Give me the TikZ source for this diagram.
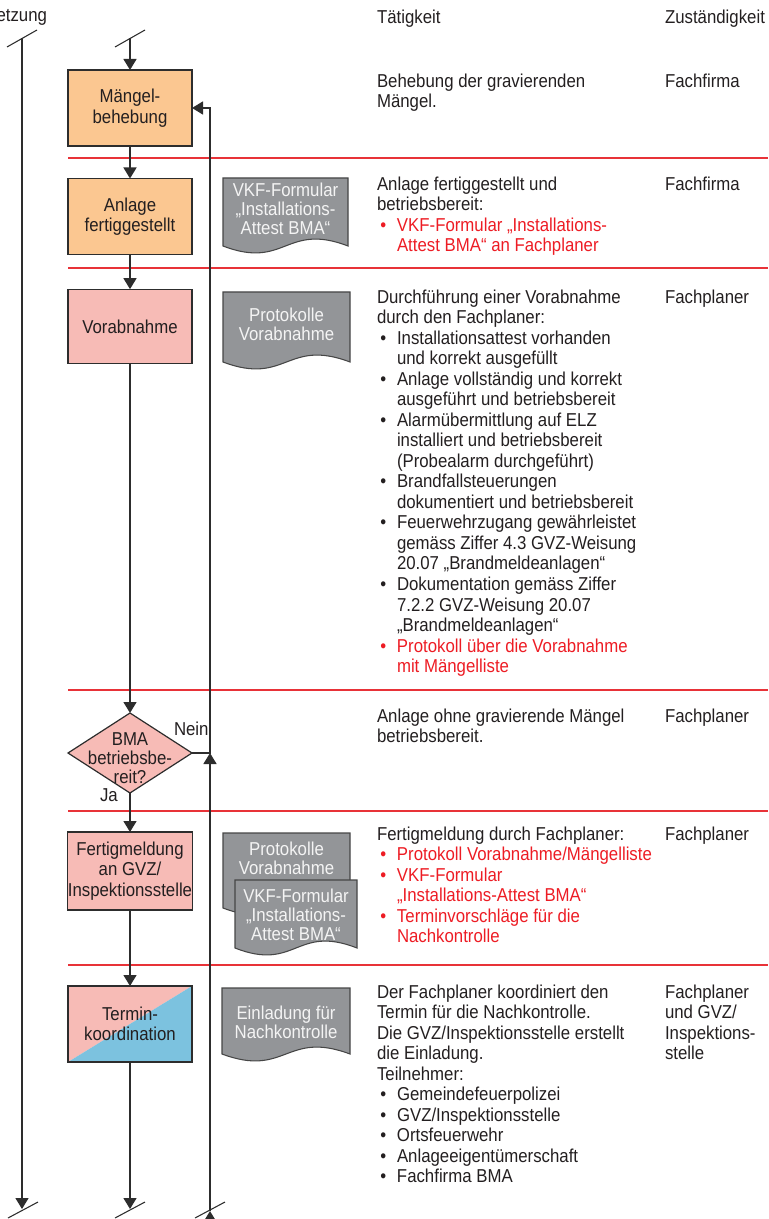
\documentclass[tikz,border=0pt]{standalone}
\usepackage{fontspec}
\setmainfont{Liberation Sans}[FakeStretch=0.9]
\usetikzlibrary{arrows.meta,shapes.geometric}

\definecolor{ink}{RGB}{35,31,32}
\definecolor{lineC}{RGB}{45,45,45}
\definecolor{rulered}{RGB}{232,50,56}
\definecolor{redtxt}{RGB}{237,28,36}
\definecolor{orangefill}{RGB}{251,199,145}
\definecolor{pinkfill}{RGB}{247,187,182}
\definecolor{bluefill}{RGB}{124,194,223}
\definecolor{docfill}{RGB}{147,149,152}
\definecolor{docline}{RGB}{70,70,70}
\definecolor{doctxt}{RGB}{244,244,244}

\newcommand\bodyfont{\fontsize{14pt}{15.4pt}\selectfont}
\newcommand\docfont{\fontsize{14pt}{14.2pt}\selectfont}
% bullet and hanging indent for list lines
\newcommand\bl{\makebox[15pt][l]{\hspace{2.5pt}•}}
\newcommand\ind{\hspace*{15pt}}
\newcommand\rl[1]{\textcolor{redtxt}{#1}}

% document symbol: left, top, width, height of straight sides (px)
\newcommand\docshape[4]{%
  \path[docstyle] (#1,#2) -- ({#1+#3},#2) -- ({#1+#3},{#2+#4})
    .. controls ({#1+0.5*#3},{#2+#4-24}) and ({#1+0.5*#3},{#2+#4+24}) .. (#1,{#2+#4}) -- cycle;}

\tikzset{
  every node/.style={font=\bodyfont, text=ink, inner sep=0pt, outer sep=0pt},
  flow/.style={draw=lineC, line width=1.1pt, -{Triangle[width=9.75pt,length=8.25pt]}},
  plainline/.style={draw=lineC, line width=1.1pt},
  cutmark/.style={draw=lineC, line width=0.8pt},
  stepbox/.style={draw=lineC, line width=0.9pt, minimum width=93pt, minimum height=57pt, align=center},
  decision/.style={diamond, draw=lineC, line width=0.9pt, fill=pinkfill, minimum width=93pt, minimum height=60pt},
  rowrule/.style={draw=rulered, line width=0.9pt},
  docstyle/.style={draw=docline, line width=0.8pt, fill=docfill},
  doctext/.style={font=\docfont, text=doctxt, align=center},
  coltext/.style={anchor=north west, align=left},
}

\begin{document}
\begin{tikzpicture}[x=0.75pt,y=-0.75pt]
\clip (0,0) rectangle (768,1219);

% column headers
\node[anchor=north east] (hcut) at (47,9.5) {etzung};
\node[coltext] (hact) at (377,9.5) {Tätigkeit};
\node[coltext] (hres) at (665,9.5) {Zuständigkeit};

% row separators
\foreach \yy in {158,268,690,811,965}
  \draw[rowrule] (68,\yy) -- (768,\yy);

% process steps
\node[stepbox, fill=orangefill] (mb) at (130,108) {Mängel-\\behebung};
\node[stepbox, fill=orangefill] (af) at (130,216.5) {Anlage\\fertiggestellt};
\node[stepbox, fill=pinkfill, minimum height=56pt] (va) at (130,326.5) {Vorabnahme};
\node[decision] (dec) at (130,753) {};
\node[font=\docfont, align=center] (decl) at (130,758) {BMA\\betriebsbe-\\reit?};
\node[stepbox, fill=pinkfill, minimum height=58.5pt] (fm) at (130,871) {Fertigmeldung\\an GVZ/\\Inspektionsstelle};
\node[stepbox, path picture={
    \fill[pinkfill] (path picture bounding box.north west) -- (path picture bounding box.north east)
      -- (path picture bounding box.south west) -- cycle;
    \fill[bluefill] (path picture bounding box.north east) -- (path picture bounding box.south east)
      -- (path picture bounding box.south west) -- cycle;}] (tk) at (130,1024) {Termin-\\koordination};

\node[anchor=north west] (nein) at (174,721.5) {Nein};
\node[anchor=north west] (ja) at (100,788.5) {Ja};

% documents
\docshape{223}{178}{125}{68}
\node[doctext] (d1) at (285.5,209) {VKF-Formular\\„Installations-\\Attest BMA“};
\docshape{223}{292}{127}{70}
\node[doctext] (d2) at (286.5,324) {Protokolle\\Vorabnahme};
\docshape{223}{833}{127}{75}
\node[doctext] (d3) at (286.5,858) {Protokolle\\Vorabnahme};
\docshape{235}{880}{122}{68}
\node[doctext] (d4) at (296,915) {VKF-Formular\\„Installations-\\Attest BMA“};
\docshape{222}{988}{128}{66}
\node[doctext] (d5) at (286,1022) {Einladung für\\Nachkontrolle};

% off-page connectors
\coordinate (lt) at (22,38.5);
\coordinate (lb) at (22,1209);
\coordinate (mt) at (130,38.5);
\coordinate (mbot) at (130,1209);
\coordinate (rj) at (210,753);
\coordinate (rbot) at (210,1211);
\coordinate (rlow) at (210,1240);

\draw[cutmark] (7,47) -- (37,30);
\draw[cutmark] (115,47) -- (145,30);
\draw[cutmark] (8,1218) -- (38,1202);
\draw[cutmark] (115,1218) -- (145,1202);
\draw[cutmark] (195,1218) -- (225,1202);

% flow
\draw[flow] (lt) -- (lb);
\draw[flow] (mt) -- (mb);
\draw[flow] (mb) -- (af);
\draw[flow] (af) -- (va);
\draw[flow] (va) -- (dec);
\draw[flow] (dec) -- (fm);
\draw[flow] (fm) -- (tk);
\draw[flow] (tk) -- (mbot);
\draw[flow] (dec.east) -- (rj) |- (mb.east);
\draw[flow] (rlow) -- (rbot);
\draw[flow] (rbot) -- (rj);

% activity column
\node[coltext] (a1) at (377,73.5) {Behebung der gravierenden\\Mängel.};
\node[coltext] (a2) at (377,176.5) {Anlage fertiggestellt und\\betriebsbereit:\\
  \rl{\bl VKF-Formular „Installations-}\\\rl{\ind Attest BMA“ an Fachplaner}};
\node[coltext] (a3) at (377,289.5) {Durchführung einer Vorabnahme\\durch den Fachplaner:\\
  \bl Installationsattest vorhanden\\\ind und korrekt ausgefüllt\\
  \bl Anlage vollständig und korrekt\\\ind ausgeführt und betriebsbereit\\
  \bl Alarmübermittlung auf ELZ\\\ind installiert und betriebsbereit\\\ind (Probealarm durchgeführt)\\
  \bl Brandfallsteuerungen\\\ind dokumentiert und betriebsbereit\\
  \bl Feuerwehrzugang gewährleistet\\\ind gemäss Ziffer 4.3 GVZ-Weisung\\\ind 20.07 „Brandmeldeanlagen“\\
  \bl Dokumentation gemäss Ziffer\\\ind 7.2.2 GVZ-Weisung 20.07\\\ind „Brandmeldeanlagen“\\
  \rl{\bl Protokoll über die Vorabnahme}\\\rl{\ind mit Mängelliste}};
\node[coltext] (a4) at (377,708.5) {Anlage ohne gravierende Mängel\\betriebsbereit.};
\node[coltext] (a5) at (377,826.5) {Fertigmeldung durch Fachplaner:\\
  \rl{\bl Protokoll Vorabnahme/Mängelliste}\\
  \rl{\bl VKF-Formular}\\\rl{\ind „Installations-Attest BMA“}\\
  \rl{\bl Terminvorschläge für die}\\\rl{\ind Nachkontrolle}};
\node[coltext] (a6) at (377,984.5) {Der Fachplaner koordiniert den\\Termin für die Nachkontrolle.\\
  Die GVZ/Inspektionsstelle erstellt\\die Einladung.\\Teilnehmer:\\
  \bl Gemeindefeuerpolizei\\\bl GVZ/Inspektionsstelle\\\bl Ortsfeuerwehr\\
  \bl Anlageeigentümerschaft\\\bl Fachfirma BMA};

% responsibility column
\node[coltext] (r1) at (665,73.5) {Fachfirma};
\node[coltext] (r2) at (665,176.5) {Fachfirma};
\node[coltext] (r3) at (665,289.5) {Fachplaner};
\node[coltext] (r4) at (665,708.5) {Fachplaner};
\node[coltext] (r5) at (665,826.5) {Fachplaner};
\node[coltext] (r6) at (665,984.5) {Fachplaner\\und GVZ/\\Inspektions-\\stelle};
\end{tikzpicture}
\end{document}
